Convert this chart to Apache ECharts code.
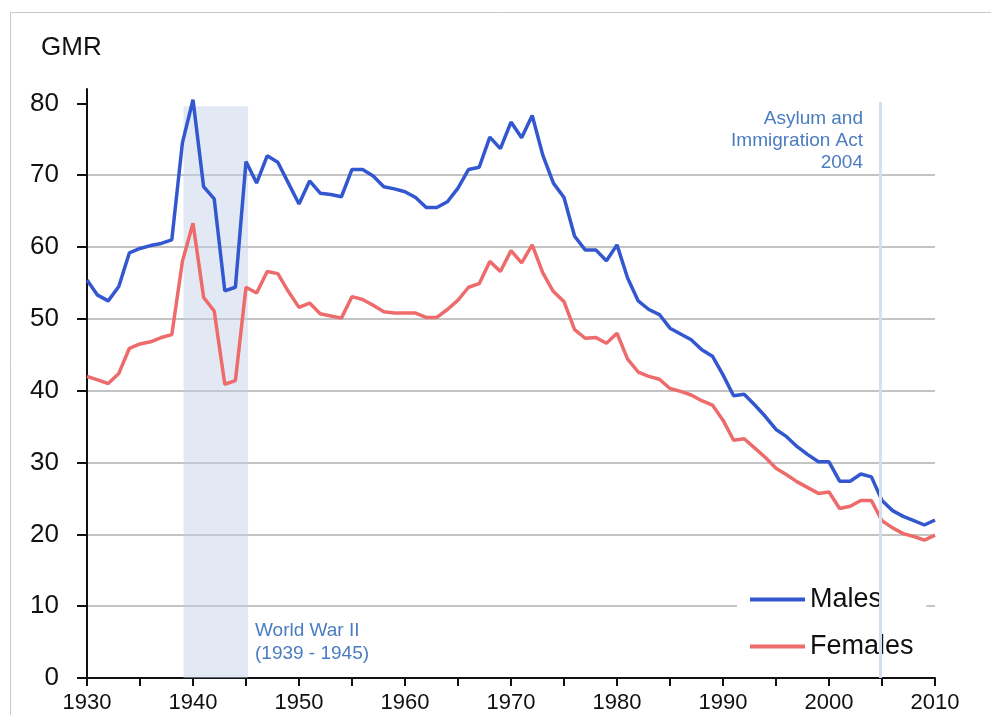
<!DOCTYPE html>
<html>
<head>
<meta charset="utf-8">
<script src="https://cdn.jsdelivr.net/npm/echarts@6/dist/echarts.min.js"></script>
<style>
html,body{margin:0;padding:0;background:#fff;}
#chart{width:991px;height:715px;}
</style>
</head>
<body>
<div id="chart"></div>
<script>
// ---- data ----
const years = [];
for (let y = 1930; y <= 2010; y++) years.push(y);
const males = [
  55.4, 53.3, 52.5, 54.5, 59.2, 59.8, 60.2, 60.5, 61.0, 74.5,
  80.5, 68.4, 66.7, 53.9, 54.4, 71.9, 68.9, 72.7, 71.8, 68.9,
  66.0, 69.2, 67.5, 67.3, 67.0, 70.8, 70.8, 69.9, 68.4, 68.1,
  67.7, 66.9, 65.5, 65.5, 66.3, 68.2, 70.8, 71.1, 75.3, 73.7,
  77.4, 75.2, 78.3, 72.8, 68.9, 66.9, 61.5, 59.6, 59.6, 58.1,
  60.3, 55.7, 52.5, 51.3, 50.6, 48.7, 47.9, 47.1, 45.7, 44.8,
  42.2, 39.3, 39.5, 38.0, 36.4, 34.6, 33.6, 32.2, 31.1, 30.1,
  30.1, 27.4, 27.4, 28.4, 28.0, 24.7, 23.3, 22.5, 21.9, 21.3,
  22.0
];
const females = [
  42.0, 41.5, 41.0, 42.4, 45.9, 46.5, 46.8, 47.4, 47.8, 58.0,
  63.3, 53.0, 51.1, 40.9, 41.4, 54.4, 53.6, 56.6, 56.3, 53.8,
  51.6, 52.2, 50.7, 50.4, 50.1, 53.1, 52.7, 51.9, 51.0, 50.8,
  50.8, 50.8, 50.2, 50.2, 51.3, 52.6, 54.4, 54.9, 58.0, 56.6,
  59.5, 57.8, 60.3, 56.4, 53.8, 52.4, 48.5, 47.3, 47.4, 46.6,
  48.0, 44.4, 42.6, 42.0, 41.6, 40.3, 39.9, 39.4, 38.6, 38.0,
  35.9, 33.1, 33.3, 32.0, 30.7, 29.2, 28.3, 27.3, 26.5, 25.7,
  25.9, 23.6, 23.9, 24.7, 24.7, 21.9, 20.9, 20.1, 19.7, 19.2,
  19.9
];
const xTickLabels = [1930, 1940, 1950, 1960, 1970, 1980, 1990, 2000, 2010];
const yTickLabels = [0, 10, 20, 30, 40, 50, 60, 70, 80];
const warPeriod = [1939.1, 1945.2];
const warTop = 79.6;
const actYear = 2004.8;
const actTop = 80.2;

const FONT = 'Liberation Sans, Arial, sans-serif';
const chart = echarts.init(document.getElementById('chart'));
chart.setOption({
  animation: false,
  backgroundColor: '#fff',
  title: {
    text: 'GMR', left: 36, top: 30,
    textStyle: { fontFamily: FONT, fontSize: 26, fontWeight: 'normal', color: '#111' }
  },
  grid: { left: 87, right: 56, top: 89, bottom: 37 },
  xAxis: {
    type: 'value', min: 1930, max: 2010, interval: 5,
    axisLine: { lineStyle: { color: '#111', width: 2 } },
    axisTick: { length: 8, lineStyle: { color: '#111', width: 2 } },
    axisLabel: {
      customValues: xTickLabels,
      formatter: v => String(v),
      fontFamily: FONT, fontSize: 22, color: '#111', margin: 14
    },
    splitLine: { show: false }
  },
  yAxis: {
    type: 'value', min: 0, max: 82, interval: 10,
    axisLine: { show: true, lineStyle: { color: '#111', width: 2 } },
    axisTick: { show: true, length: 10, customValues: yTickLabels, lineStyle: { color: '#111', width: 2 } },
    axisLabel: {
      customValues: yTickLabels,
      formatter: v => String(v),
      fontFamily: FONT, fontSize: 26, color: '#111', margin: 28
    },
    splitLine: { show: true, showMaxLine: false, lineStyle: { color: '#c4c4c4', width: 2 } }
  },
  legend: {
    orient: 'vertical', left: 737, top: 580,
    backgroundColor: '#fff', padding: [6, 13, 6, 13],
    itemWidth: 55, itemHeight: 4, itemGap: 20, icon: 'rect',
    textStyle: { fontFamily: FONT, fontSize: 27, color: '#111' },
    data: ['Males', 'Females']
  },
  graphic: [
    { type: 'rect', silent: true, z: -10,
      shape: { x: 10.5, y: 12.5, width: 1000, height: 800 },
      style: { fill: 'none', stroke: '#c8c8c8', lineWidth: 1 } },
    { type: 'text', x: 255, y: 619, z: 10,
      style: { text: 'World War II\n(1939 - 1945)', font: '19px ' + FONT, fill: '#4a7cc0', lineHeight: 23 } },
    { type: 'text', x: 863, y: 108, z: 10,
      style: { text: 'Asylum and\nImmigration Act\n2004', font: '19px ' + FONT, fill: '#4a7cc0', lineHeight: 22, align: 'right' } }
  ],
  series: [
    {
      name: 'bands', type: 'line', data: [], z: 1,
      markArea: {
        silent: true,
        itemStyle: { color: 'rgba(190,207,232,0.45)' },
        data: [[{ xAxis: warPeriod[0], yAxis: 0 }, { xAxis: warPeriod[1], yAxis: warTop }]]
      },
      markLine: {
        silent: true, symbol: 'none', z: 6,
        lineStyle: { color: '#d3deee', width: 3, type: 'solid' },
        label: { show: false },
        data: [[{ coord: [actYear, 0] }, { coord: [actYear, actTop] }]]
      }
    },
    {
      name: 'Males', type: 'line', showSymbol: false, symbol: 'none', z: 3,
      color: '#3257cf',
      lineStyle: { width: 3.5, color: '#3257cf' },
      data: years.map((y, i) => [y, males[i]])
    },
    {
      name: 'Females', type: 'line', showSymbol: false, symbol: 'none', z: 3,
      color: '#ee6b6b',
      lineStyle: { width: 3.5, color: '#ee6b6b' },
      data: years.map((y, i) => [y, females[i]])
    }
  ]
});
</script>
</body>
</html>
